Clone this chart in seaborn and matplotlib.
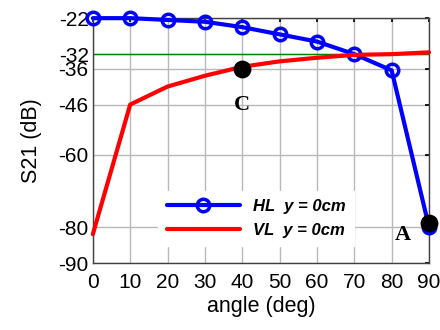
import matplotlib
matplotlib.use("Agg")
import matplotlib.pyplot as plt
import seaborn as sns
import pandas as pd

angles = [0, 10, 20, 30, 40, 50, 60, 70, 80, 90]
hl_values = [-22, -22, -22.5, -23, -24.5, -26.5, -28.5, -32, -36.5, -80]
vl_values = [-82, -46, -41, -38, -35.5, -34, -33, -32.2, -32, -31.5]
series_names = ["HL  y = 0cm", "VL  y = 0cm"]
yticks = [-90, -80, -60, -46, -36, -32, -22]
xticks = [0, 10, 20, 30, 40, 50, 60, 70, 80, 90]
ref_level = -32
point_x = [40, 90]
point_y = [-36, -79]
point_labels = ["C", "A"]
label_x = [40, 83]
label_y = [-46, -82.3]

sns.set_theme(style="white")
plt.rcParams["font.family"] = ["Liberation Sans", "DejaVu Sans"]
plt.rcParams["axes.unicode_minus"] = False
plt.rcParams["text.color"] = "black"
plt.rcParams["axes.labelcolor"] = "black"
plt.rcParams["xtick.color"] = "black"
plt.rcParams["ytick.color"] = "black"

df = pd.DataFrame({
    "angle": angles * 2,
    "S21": hl_values + vl_values,
    "series": [series_names[0]] * len(angles) + [series_names[1]] * len(angles),
})

fig = plt.figure(figsize=(4.4, 3.3), dpi=100)
ax = fig.add_axes([0.211, 0.203, 0.764, 0.742])

ax.axhline(ref_level, color=(0.0, 0.5, 0.0), lw=1.0, zorder=2)

sns.lineplot(data=df[df.series == series_names[0]], x="angle", y="S21", ax=ax,
             color="#0000ff", lw=3, marker="o", markersize=9, markerfacecolor="none",
             markeredgecolor="#0000ff", markeredgewidth=2.5, label=series_names[0],
             zorder=3, clip_on=False)
sns.lineplot(data=df[df.series == series_names[1]], x="angle", y="S21", ax=ax,
             color="#ff0000", lw=3, label=series_names[1], zorder=3, clip_on=False)

ax.scatter(point_x, point_y, s=140, color="black", zorder=5, clip_on=False)
for lx, ly, t in zip(label_x, label_y, point_labels):
    ax.text(lx, ly, t, ha="center", va="center", fontsize=16, fontweight="bold",
            family="Liberation Serif", zorder=6)

ax.set_xlim(0, 90)
ax.set_ylim(-90, -22)
ax.set_xticks(xticks)
ax.set_yticks(yticks)
ax.grid(True, color="#b8b8b8", lw=1.0)
ax.set_axisbelow(True)
ax.tick_params(axis="both", labelsize=15, direction="in", length=3, top=True,
               right=True, color="black")
ax.tick_params(axis="x", pad=7)
ax.tick_params(axis="y", pad=3)
for s in ax.spines.values():
    s.set_color("#404040")
    s.set_linewidth(1.0)
ax.set_xlabel("angle (deg)", fontsize=15.5, labelpad=3)
ax.set_ylabel("S21 (dB)", fontsize=15.5, labelpad=12)

leg = ax.legend(loc="upper left", bbox_to_anchor=(0.17, 0.33), frameon=True,
                fancybox=False, edgecolor="white", framealpha=1, handlelength=4.4,
                prop={"size": 12, "weight": "bold", "style": "italic"},
                borderpad=0.5, labelspacing=0.55)

fig.savefig("out.png", dpi=100)
